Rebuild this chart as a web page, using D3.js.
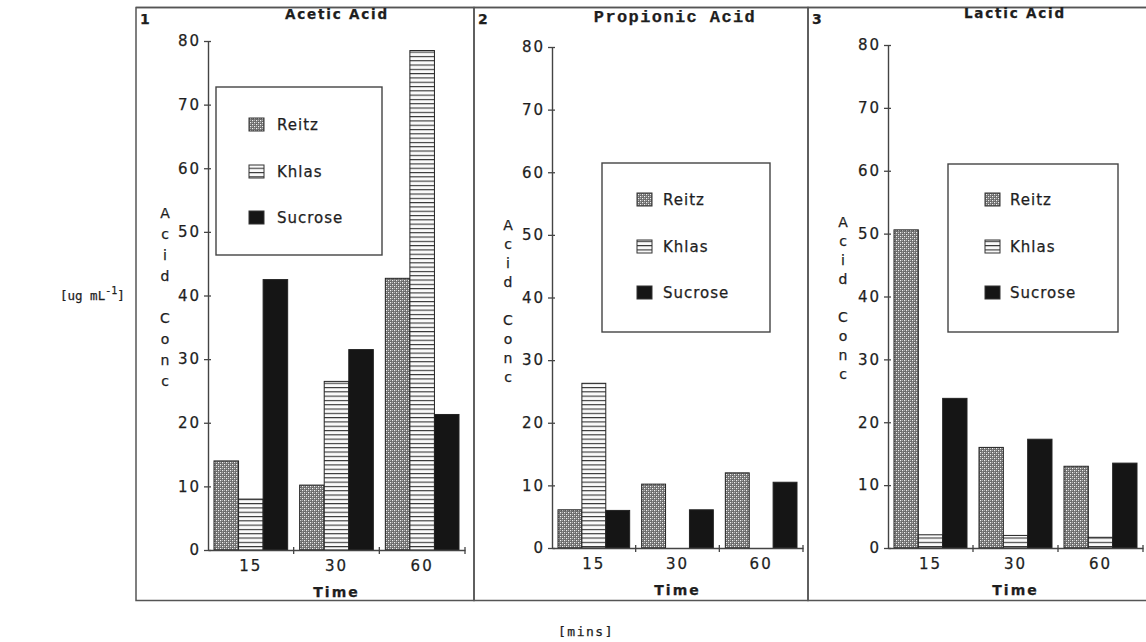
<!DOCTYPE html>
<html>
<head>
<meta charset="utf-8">
<script src="https://cdn.jsdelivr.net/npm/d3@7"></script>
<style>
  body { margin: 0; background: #fff; }
  svg text { fill: #1e1e1e; stroke: #1e1e1e; stroke-width: 0.25px; }
</style>
</head>
<body>
<svg width="1146" height="642"></svg>
<script>
var svg = d3.select("svg");

// data
var times = ["15", "30", "60"];
var seriesNames = ["Reitz", "Khlas", "Sucrose"];
var yTicks = [0, 10, 20, 30, 40, 50, 60, 70, 80];
var panelTitles = ["Acetic Acid", "Propionic Acid", "Lactic Acid"];

var aceticReitz = [14, 10.2, 42.7];
var aceticKhlas = [8, 26.5, 78.5];
var aceticSucrose = [42.5, 31.5, 21.3];

var propionicReitz = [6.1, 10.2, 12];
var propionicKhlas = [26.3, 0, 0];
var propionicSucrose = [6, 6.1, 10.5];

var lacticReitz = [50.6, 16, 13];
var lacticKhlas = [2.1, 2, 1.7];
var lacticSucrose = [23.8, 17.3, 13.5];

var panelData = [
  [aceticReitz, aceticKhlas, aceticSucrose],
  [propionicReitz, propionicKhlas, propionicSucrose],
  [lacticReitz, lacticKhlas, lacticSucrose]
];

// layout of the three boxes
var panels = [
  {box: [136, 474], x: [208, 465], y: [550, 41], legend: [216, 87, 382, 255], legY: [125, 172, 218], sw: 249, lt: 277,
   lab: {x: 165, y: 213, dy: 21}, title: {x: 337, y: 19, font: "sans"}},
  {box: [474, 808], x: [552, 803], y: [548, 47], legend: [602, 163, 770, 332], legY: [200, 247, 293], sw: 637, lt: 663,
   lab: {x: 508, y: 225, dy: 19}, title: {x: 675, y: 22, font: "mono"}},
  {box: [808, 1152], x: [888, 1143], y: [548, 45], legend: [948, 164, 1118, 332], legY: [200, 247, 293], sw: 985, lt: 1010,
   lab: {x: 843, y: 222, dy: 19}, title: {x: 1015, y: 18, font: "sans"}}
];

var defs = svg.append("defs");

var dots = defs.append("pattern")
  .attr("id", "dots").attr("patternUnits", "userSpaceOnUse")
  .attr("width", 4).attr("height", 4);
dots.append("rect").attr("width", 4).attr("height", 4).attr("fill", "#6a6a6a");
dots.append("rect").attr("x", 0).attr("y", 0).attr("width", 1.2).attr("height", 1.2).attr("fill", "#f2f2f2");
dots.append("rect").attr("x", 2).attr("y", 2).attr("width", 1.2).attr("height", 1.2).attr("fill", "#f2f2f2");
dots.append("rect").attr("x", 2).attr("y", 0).attr("width", 1).attr("height", 1).attr("fill", "#b0b0b0");
dots.append("rect").attr("x", 0).attr("y", 2).attr("width", 1).attr("height", 1).attr("fill", "#b0b0b0");

var lines = defs.append("pattern")
  .attr("id", "lines").attr("patternUnits", "userSpaceOnUse")
  .attr("width", 6).attr("height", 4.3);
lines.append("rect").attr("width", 6).attr("height", 4.3).attr("fill", "#fafafa");
lines.append("rect").attr("y", 0).attr("width", 6).attr("height", 1.1).attr("fill", "#333");

var fills = ["url(#dots)", "url(#lines)", "#151515"];

// outer frame
svg.append("line").attr("x1", 136).attr("x2", 1146).attr("y1", 7.5).attr("y2", 7.5)
  .attr("stroke", "#555").attr("stroke-width", 1.5);

panels.forEach(function(p, i) {
  var g = svg.append("g");

  g.append("rect")
    .attr("x", p.box[0]).attr("y", 7.5)
    .attr("width", p.box[1] - p.box[0]).attr("height", 593)
    .attr("fill", "none").attr("stroke", "#555").attr("stroke-width", 1.5);

  var y = d3.scaleLinear().domain([0, 80]).range(p.y);
  var x0 = d3.scaleBand().domain(times).range(p.x).padding(0);
  var bw = x0.bandwidth();
  var x1 = d3.scaleBand().domain(seriesNames).range([6, bw - 6]).padding(0);

  // bars
  seriesNames.forEach(function(s, si) {
    g.append("g").selectAll("rect")
      .data(panelData[i][si])
      .enter().append("rect")
      .attr("x", function(d, k) { return x0(times[k]) + x1(s); })
      .attr("y", function(d) { return y(d); })
      .attr("width", x1.bandwidth())
      .attr("height", function(d) { return y(0) - y(d); })
      .attr("fill", fills[si])
      .attr("stroke", d => d > 0 ? "#222" : "none")
      .attr("stroke-width", 1);
  });

  // y axis
  var yAxis = g.append("g")
    .attr("transform", "translate(" + p.x[0] + ",0)")
    .call(d3.axisLeft(y).tickValues(yTicks).tickSize(0).tickPadding(7));
  yAxis.select(".domain").attr("stroke", "#444").attr("stroke-width", 1.4);
  yAxis.selectAll(".tick line").attr("x1", -4).attr("x2", 3).attr("stroke", "#444").attr("stroke-width", 1.3);
  yAxis.selectAll(".tick text")
    .style("font-family", "DejaVu Sans, sans-serif").style("font-size", "15px")
    .style("letter-spacing", "2px").attr("fill", "#1e1e1e");

  // x axis
  var xAxis = g.append("g")
    .attr("transform", "translate(0," + p.y[0] + ")")
    .call(d3.axisBottom(x0).tickSize(0).tickPadding(10));
  xAxis.select(".domain").attr("stroke", "#444").attr("stroke-width", 1.4);
  xAxis.selectAll(".tick text")
    .style("font-family", "DejaVu Sans, sans-serif").style("font-size", "15px")
    .style("letter-spacing", "2px").attr("fill", "#1e1e1e");
  times.forEach(function(t) {
    var xe = x0(t) + bw;
    g.append("line").attr("x1", xe).attr("x2", xe).attr("y1", p.y[0] - 3).attr("y2", p.y[0] + 4)
      .attr("stroke", "#444").attr("stroke-width", 1.3);
  });

  g.append("text")
    .attr("x", (p.x[0] + p.x[1]) / 2).attr("y", p.y[0] + 47)
    .attr("text-anchor", "middle")
    .style("font-family", "DejaVu Sans, sans-serif").style("font-size", "14px")
    .style("font-weight", "bold").style("letter-spacing", "2px")
    .text("Time");

  // vertical stacked axis label
  var letters = "Acid Conc".split("");
  g.append("g").selectAll("text")
    .data(letters)
    .enter().append("text")
    .attr("x", p.lab.x).attr("y", function(d, k) { return p.lab.y + k * p.lab.dy + 5; })
    .attr("text-anchor", "middle")
    .style("font-family", "DejaVu Sans, sans-serif").style("font-size", "14px")
    .text(function(d) { return d; });

  // title and panel number
  g.append("text")
    .attr("x", p.title.x).attr("y", p.title.y)
    .attr("text-anchor", "middle")
    .style("font-family", p.title.font == "mono" ? "Liberation Mono, monospace" : "DejaVu Sans, sans-serif")
    .style("font-size", p.title.font == "mono" ? "17px" : "13.5px")
    .style("font-weight", "bold")
    .style("letter-spacing", p.title.font == "mono" ? "1.4px" : "1.8px")
    .text(panelTitles[i]);

  g.append("text")
    .attr("x", p.box[0] + 4).attr("y", 24)
    .style("font-family", "DejaVu Sans, sans-serif").style("font-size", "14px").style("font-weight", "bold")
    .text(String(i + 1));

  // legend
  var L = p.legend;
  g.append("rect")
    .attr("x", L[0]).attr("y", L[1]).attr("width", L[2] - L[0]).attr("height", L[3] - L[1])
    .attr("fill", "#fff").attr("stroke", "#444").attr("stroke-width", 1.4);
  seriesNames.forEach(function(s, si) {
    g.append("rect")
      .attr("x", p.sw).attr("y", p.legY[si] - 7).attr("width", 15).attr("height", 13)
      .attr("fill", fills[si]).attr("stroke", "#333").attr("stroke-width", 1);
    g.append("text")
      .attr("x", p.lt).attr("y", p.legY[si] + 5)
      .style("font-family", "DejaVu Sans, sans-serif").style("font-size", "15px")
      .style("letter-spacing", "1px")
      .text(s);
  });
});

// shared labels
var unit = svg.append("text")
  .attr("x", 60).attr("y", 300)
  .style("font-family", "DejaVu Sans Mono, monospace").style("font-size", "12.5px");
unit.append("tspan").text("[ug mL");
unit.append("tspan").attr("dy", -6).style("font-size", "10px").text("-1");
unit.append("tspan").attr("dy", 6).text("]");

svg.append("text")
  .attr("x", 586).attr("y", 636)
  .attr("text-anchor", "middle")
  .style("font-family", "DejaVu Sans Mono, monospace").style("font-size", "13px")
  .style("letter-spacing", "1.5px")
  .text("[mins]");
</script>
</body>
</html>
